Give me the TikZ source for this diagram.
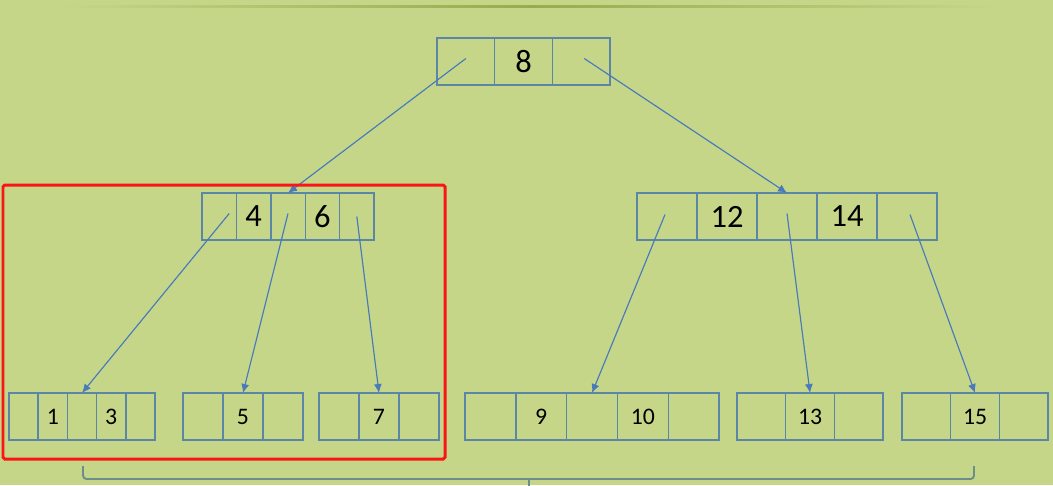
\documentclass[tikz,border=0pt]{standalone}
\usepackage{fontspec}
\setmainfont{Carlito}
\usetikzlibrary{arrows.meta,calc}
\definecolor{bgc}{RGB}{197,214,137}
\definecolor{topln}{RGB}{150,172,78}
\definecolor{boxc}{RGB}{92,134,166}
\definecolor{arc}{RGB}{72,122,188}
\definecolor{brkc}{RGB}{108,142,138}
\definecolor{hired}{RGB}{250,22,22}
\tikzset{
  cell/.style={draw=boxc,line width=.8pt,inner sep=0pt,outer sep=0pt,
               minimum height=.94cm,text=black},
  big/.style={font=\fontsize{18.5}{20}\selectfont},
  sml/.style={font=\fontsize{13.5}{15}\selectfont},
  ar/.style={-{Latex[length=1.8mm,width=1.6mm]},line width=.65pt,draw=arc,fill=arc},
  redbox/.style={draw=hired,line width=1.7pt,rounded corners=1pt},
  brk/.style={draw=brkc,line width=1.1pt,rounded corners=2pt},
}
% one B-tree node: name, left x, centre y, cell width, font, keys
\newcommand{\cellrow}[6]{%
  \foreach \t [count=\i] in {#6}
    \node[cell,#5,minimum width={#4*0.02cm}] (#1\i) at ({#2+(\i-0.5)*#4},#3) {\t};}

\begin{document}
\begin{tikzpicture}[x=0.02cm,y=-0.02cm]
  \fill[bgc] (0,0) rectangle (1053,485);
  \useasboundingbox (0,0) rectangle (1053,485);
  \shade[left color=bgc,right color=bgc,middle color=topln] (60,5) rectangle (1000,7.5);
  % root
  \cellrow{root}{437}{61.5}{57.7}{big}{{},8,{}}
  % second level
  \cellrow{lm}{202}{216.5}{34.4}{big}{{},4,{},6,{}}
  \cellrow{rm}{637}{216.5}{60}{big}{{},12,{},14,{}}
  % leaves
  \cellrow{la}{9}{416.5}{29.2}{sml}{{},1,{},3,{}}
  \cellrow{lb}{183}{416.5}{40}{sml}{{},5,{}}
  \cellrow{lc}{319}{416.5}{40}{sml}{{},7,{}}
  \cellrow{ld}{465}{416.5}{50.8}{sml}{{},9,{},10,{}}
  \cellrow{le}{737}{416.5}{48.7}{sml}{{},13,{}}
  \cellrow{lf}{902}{416.5}{48.7}{sml}{{},15,{}}
  % pointers
  \draw[ar] ([shift={(0,-3)}]root1.center) -- (lm3.north);
  \draw[ar] ([shift={(3,-3)}]root3.center) -- (rm3.north);
  \draw[ar] ([shift={(10,-3)}]lm1.center) -- (la3.north);
  \draw[ar] ([shift={(0,-3)}]lm3.center) -- (lb2.north);
  \draw[ar] (lm5.center) -- (lc2.north);
  \draw[ar] ([shift={(-2,-2)}]rm1.center) -- (ld3.north);
  \draw[ar] ([shift={(0,-3)}]rm3.center) -- (le2.north);
  \draw[ar] ([shift={(3,-2)}]rm5.center) -- (lf2.north);
  % highlight and brace
  \draw[redbox] (3,185) rectangle (445,459);
  \draw[brk] (83,466) -- (83,479) -- (974,479) -- (974,466);
  \draw[brk] (529,479) -- (529,486);
\end{tikzpicture}
\end{document}
